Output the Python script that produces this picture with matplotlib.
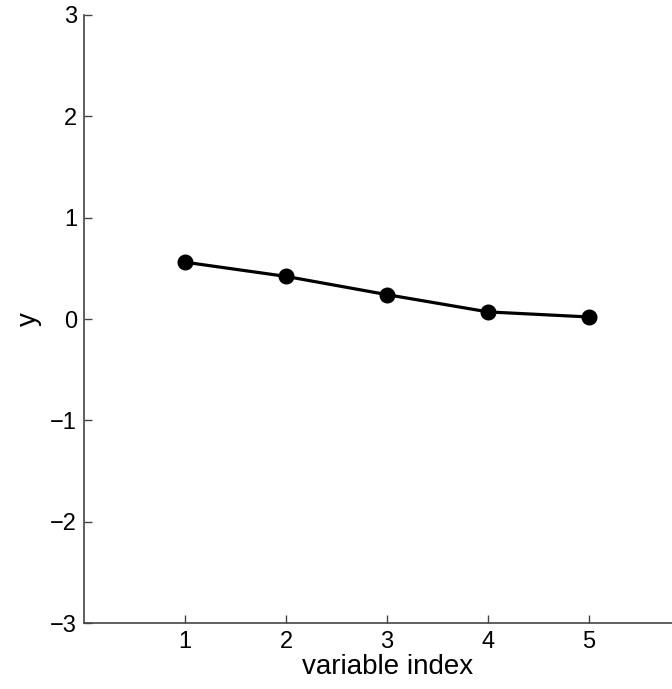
import matplotlib
matplotlib.use('Agg')
import matplotlib.pyplot as plt

plt.rcParams['font.family'] = ['Liberation Sans', 'DejaVu Sans']

# values
var_index = [1, 2, 3, 4, 5]
y_vals = [0.56, 0.42, 0.24, 0.07, 0.02]
x_ticks = [1, 2, 3, 4, 5]
y_ticks = [-3, -2, -1, 0, 1, 2, 3]

fig = plt.figure(figsize=(6.72, 6.89), dpi=100)
ax = fig.add_axes([0.125, 0.0953, 0.902, 0.8834])

ax.plot(var_index, y_vals, color='black', lw=2.3, marker='o', ms=10.5,
        markerfacecolor='black', markeredgecolor='black')

ax.set_xlim(0, 6)
ax.set_ylim(-3, 3)
ax.set_xticks(x_ticks)
ax.set_yticks(y_ticks)
ax.set_yticklabels(['\u22123', '\u22122', '\u22121', '0', '1', '2', '3'])

for s in ('top', 'right'):
    ax.spines[s].set_visible(False)
for s in ('left', 'bottom'):
    ax.spines[s].set_color('#444444')
    ax.spines[s].set_linewidth(1.2)

ax.tick_params(direction='in', length=6, width=1, colors='#444444',
               labelcolor='black', labelsize=17)
ax.tick_params(axis='x', pad=5.5)
ax.tick_params(axis='y', pad=5)

ax.set_xlabel('variable index', fontsize=20, labelpad=1)
ax.set_ylabel('y', fontsize=20, labelpad=6)

fig.savefig('out.png', dpi=100)
